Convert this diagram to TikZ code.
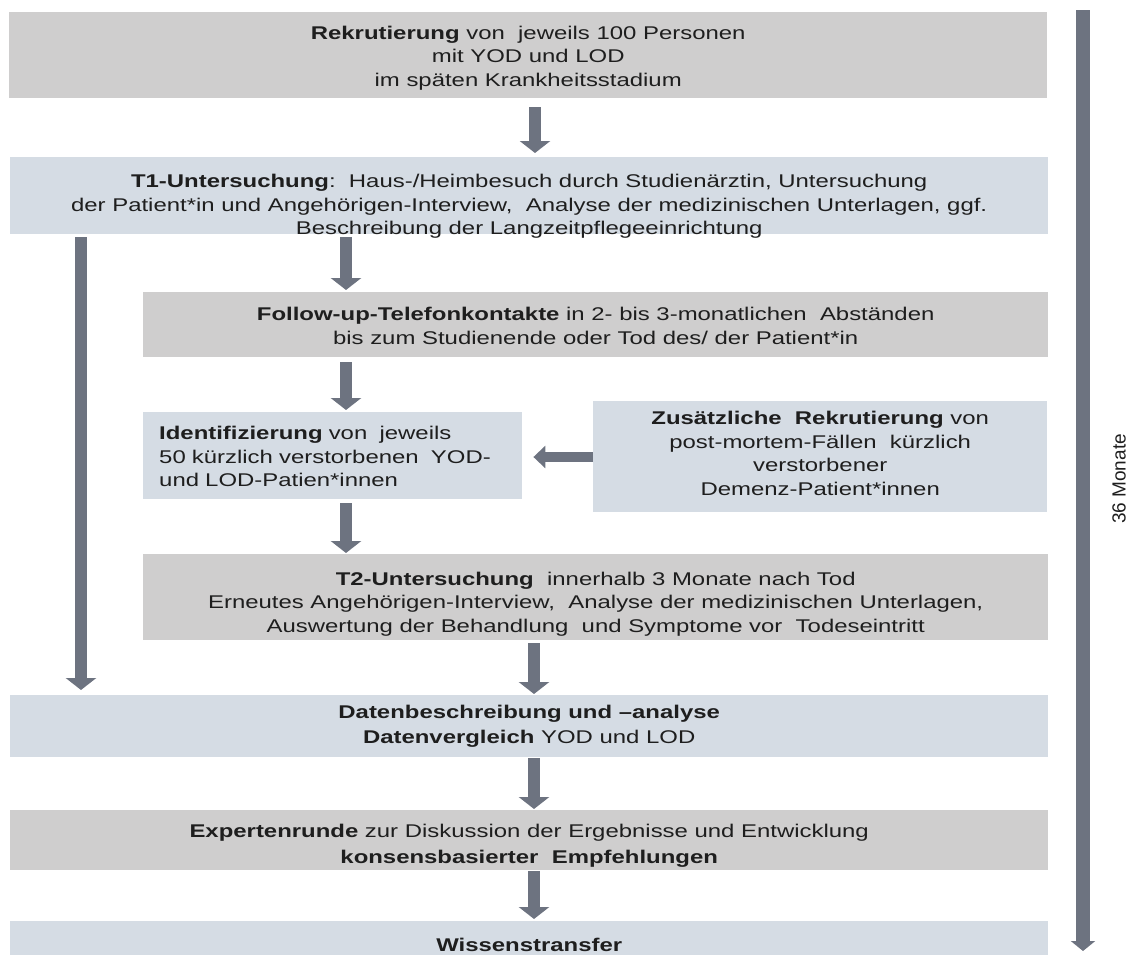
\documentclass[tikz,border=0pt]{standalone}
\usepackage{fontspec}
\setmainfont{Liberation Sans}[FakeStretch=1.3]
\newfontfamily\labelfont{Liberation Sans}
\usetikzlibrary{arrows.meta}
\definecolor{boxgray}{HTML}{CFCECE}
\definecolor{boxblue}{HTML}{D5DCE4}
\definecolor{arrowc}{HTML}{6D7380}
\definecolor{txt}{HTML}{1E1E1E}
\begin{document}
\begin{tikzpicture}[x=1pt,y=-1pt,
 box/.style={anchor=north west, inner sep=0pt},
 gbox/.style={fill=boxgray},
 bbox/.style={fill=boxblue},
 lbl/.style={inner sep=0pt, align=center, text=txt, font=\fontsize{18.4}{23.5}\selectfont},
 lblw/.style={lbl, font=\fontsize{18.4}{25.5}\selectfont},
 blk/.style={draw=arrowc, line width=12.5pt, -{Triangle[width=30pt,length=12pt]}},
 ]
\useasboundingbox (0,0) rectangle (1132,954);

% boxes
\node[box, gbox, minimum width=1038pt, minimum height=86pt] (b1) at (9,12) {};
\node[box, bbox, minimum width=1038pt, minimum height=77pt] (b2) at (10,157) {};
\node[box, gbox, minimum width=905pt, minimum height=65pt] (b3) at (143,292) {};
\node[box, bbox, minimum width=379pt, minimum height=87pt] (b4) at (143,412) {};
\node[box, bbox, minimum width=454pt, minimum height=111pt] (b5) at (593,401) {};
\node[box, gbox, minimum width=905pt, minimum height=86pt] (b6) at (143,554) {};
\node[box, bbox, minimum width=1038pt, minimum height=62pt] (b7) at (10,695) {};
\node[box, gbox, minimum width=1038pt, minimum height=60pt] (b8) at (10,810) {};
\node[box, bbox, minimum width=1038pt, minimum height=40pt] (b9) at (10,921) {};

% texts
\node[lbl] (t1) at ([yshift=-3pt]b1.center)
 {\textbf{Rekrutierung} von\ \ jeweils 100 Personen\\mit YOD und LOD\\im späten Krankheitsstadium};
\node[lbl] (t2) at ([yshift=-11pt]b2.center)
 {\textbf{T1-Untersuchung}:\ \ Haus-/Heimbesuch durch Studienärztin, Untersuchung\\der Patient*in und Angehörigen-Interview,\ \ Analyse der medizinischen Unterlagen, ggf.\\Beschreibung der Langzeitpflegeeinrichtung};
\node[lbl] (t3) at ([yshift=-1pt]b3.center)
 {\textbf{Follow-up-Telefonkontakte} in 2- bis 3-monatlichen\ \ Abständen\\bis zum Studienende oder Tod des/ der Patient*in};
\node[lbl, align=left, text width=347pt] (t4) at ([yshift=-1pt]b4.center)
 {\textbf{Identifizierung} von\ \ jeweils\\50 kürzlich verstorbenen\ \ YOD-\\und LOD-Patien*innen};
\node[lbl] (t5) at ([yshift=3.5pt]b5.center)
 {\textbf{Zusätzliche\ \ Rekrutierung} von\\post-mortem-Fällen\ \ kürzlich\\verstorbener\\Demenz-Patient*innen};
\node[lbl] (t6) at ([yshift=-7pt]b6.center)
 {\textbf{T2-Untersuchung}\ \ innerhalb 3 Monate nach Tod\\Erneutes Angehörigen-Interview,\ \ Analyse der medizinischen Unterlagen,\\Auswertung der Behandlung\ \ und Symptome vor\ \ Todeseintritt};
\node[lblw] (t7) at (b7.center)
 {\textbf{Datenbeschreibung und –analyse}\\\textbf{Datenvergleich} YOD und LOD};
\node[lblw] (t8) at ([yshift=-5.5pt]b8.center)
 {\textbf{Expertenrunde} zur Diskussion der Ergebnisse und Entwicklung\\\textbf{konsensbasierter\ \ Empfehlungen}};
\node[lbl] (t9) at ([yshift=-4pt]b9.center)
 {\textbf{Wissenstransfer}};

% connectors
\coordinate (xa) at (535,0);
\coordinate (xl) at (81,0);
\coordinate (xm) at (346,0);
\coordinate (xr) at (534,0);
\coordinate (yh) at (0,457);

\draw[blk, shorten <=9pt, shorten >=4pt] (b1.south -| xa) -- (b2.north -| xa);
\draw[blk, shorten <=3pt, shorten >=5pt] (b2.south -| xl) -- (b7.north -| xl);
\draw[blk, shorten <=3pt, shorten >=2pt] (b2.south -| xm) -- (b3.north -| xm);
\draw[blk, shorten <=5pt, shorten >=2pt] (b3.south -| xm) -- (b4.north -| xm);
\draw[blk, shorten <=4pt, shorten >=1pt] (b4.south -| xm) -- (b6.north -| xm);
\draw[blk, line width=10pt, -{Triangle[width=22pt,length=12pt]}, shorten >=11pt] (b5.west |- yh) -- (b4.east |- yh);
\draw[blk, shorten <=3pt, shorten >=1pt] (b6.south -| xr) -- (b7.north -| xr);
\draw[blk, shorten <=1pt, shorten >=1pt] (b7.south -| xr) -- (b8.north -| xr);
\draw[blk, shorten <=1pt, shorten >=2pt] (b8.south -| xr) -- (b9.north -| xr);

% time axis
\coordinate (rt) at (1083,10);
\coordinate (rb) at (1083,951);
\draw[blk, line width=14pt, -{Triangle[width=24pt,length=10pt]}] (rt) -- (rb);
\node[rotate=90, text=txt, font=\labelfont\fontsize{19}{22}\selectfont] (lab) at (1119,479) {36 Monate};
\end{tikzpicture}
\end{document}
